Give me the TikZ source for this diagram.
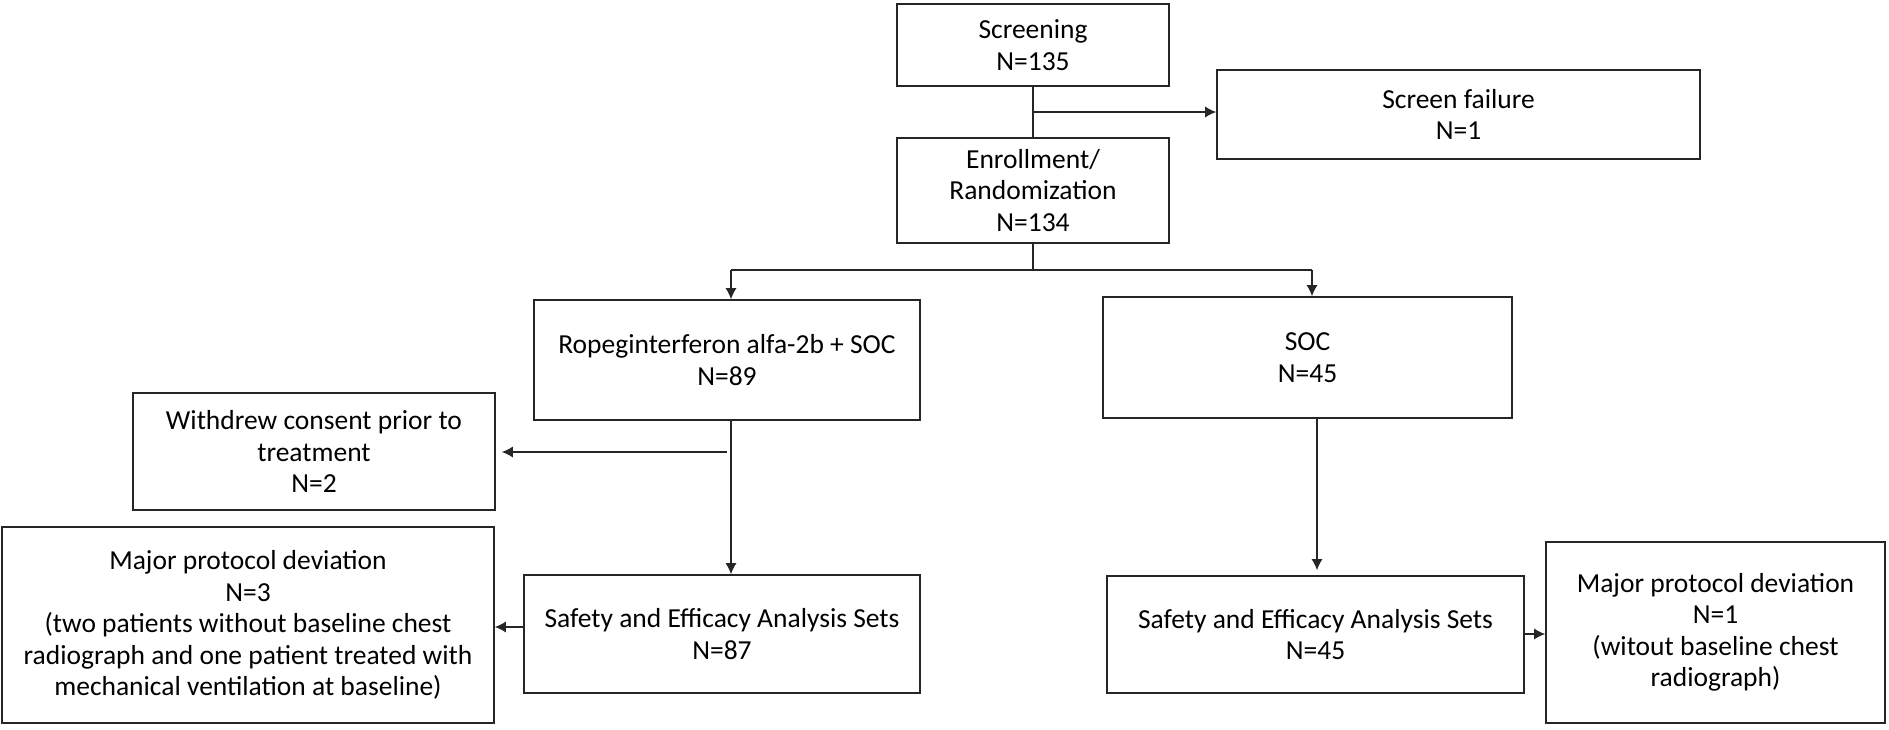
\documentclass[tikz,border=0pt]{standalone}
\usepackage{fontspec}
\setmainfont{Carlito}
\usetikzlibrary{arrows.meta}
\tikzset{
  box/.style={draw=black!85, line width=1.6pt, align=center, inner sep=0pt,
    font=\fontsize{27.5}{31.5}\selectfont},
  conn/.style={draw=black!85, line width=1.3pt},
  arr/.style={conn, -{Latex[length=11pt,width=11pt]}},
}
\begin{document}
\begin{tikzpicture}[x=1pt,y=-1pt]
\fill[white] (0,0) rectangle (1889,729);
\useasboundingbox (0,0) rectangle (1889,729);

\node[box, minimum width=272pt, minimum height=82pt] (scr) at (1033,45) {Screening\\N=135};
\node[box, minimum width=483pt, minimum height=89pt] (sf) at (1458.5,114.5) {Screen failure\\N=1};
\node[box, minimum width=272pt, minimum height=105pt] (enr) at (1033,190.5) {Enrollment/\\Randomization\\N=134};
\node[box, minimum width=386pt, minimum height=120pt] (rop) at (727,360) {Ropeginterferon alfa-2b + SOC\\N=89};
\node[box, minimum width=409pt, minimum height=121pt] (soc) at (1307.5,357.5) {SOC\\N=45};
\node[box, minimum width=362pt, minimum height=117pt] (wd) at (314,451.5) {Withdrew consent prior to\\treatment\\N=2};
\node[box, minimum width=492pt, minimum height=196pt] (mpl) at (248,625) {Major protocol deviation\\N=3\\(two patients without baseline chest\\radiograph and one patient treated with\\mechanical ventilation at baseline)};
\node[box, minimum width=396pt, minimum height=118pt] (sal) at (722,634) {Safety and Efficacy Analysis Sets\\N=87};
\node[box, minimum width=417pt, minimum height=117pt] (sar) at (1315.5,634.5) {Safety and Efficacy Analysis Sets\\N=45};
\node[box, minimum width=339pt, minimum height=181pt] (mpr) at (1715.5,632.5) {Major protocol deviation\\N=1\\(witout baseline chest\\radiograph)};

% screening -> enrollment, branch to screen failure
\draw[conn] (scr.south) -- (enr.north);
\coordinate (br) at (1033,112);
\draw[arr] (br) -- (br -| sf.west);

% randomization split
\coordinate (sp) at (1033,270);
\coordinate (spl) at (731,270);
\coordinate (spr) at (1312,270);
\draw[conn] (enr.south) -- (sp);
\draw[conn] (spl) -- (spr);
\draw[arr] (spl) -- (spl |- rop.north);
\draw[arr] (spr) -- (spr |- soc.north);

% left arm
\coordinate (rl) at (731,420);
\draw[arr] (rl) -- (rl |- sal.north);
\coordinate (wds) at (727,452);
\draw[arr, shorten >=6pt] (wds) -- (wds -| wd.east);
\coordinate (sl) at (524,627);
\draw[arr] (sl) -- (sl -| mpl.east);

% right arm
\coordinate (rr) at (1317,418);
\draw[arr, shorten >=5pt] (rr) -- (rr |- sar.north);
\coordinate (srr) at (1524,634);
\draw[arr] (srr) -- (srr -| mpr.west);
\end{tikzpicture}
\end{document}
